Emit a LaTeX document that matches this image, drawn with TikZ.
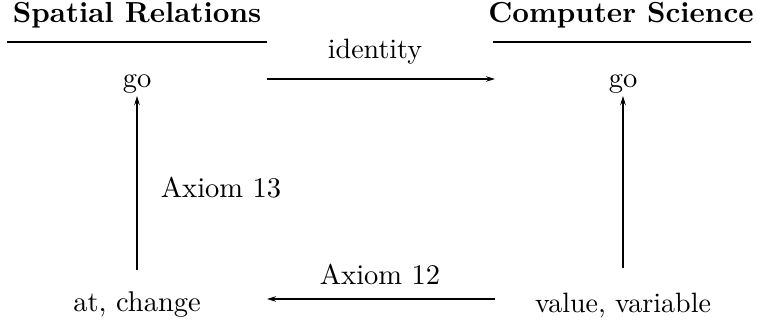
\documentclass[tikz,border=0pt]{standalone}
\usetikzlibrary{arrows.meta}
\newcommand\scaledtxt[2]{\scalebox{#1}{\fontsize{10}{12}\selectfont #2}}
\begin{document}
\begin{tikzpicture}[x=1pt,y=-1pt,
  txt/.style={anchor=base,inner sep=0pt},
  head/.style={anchor=base,inner sep=0pt},
  hline/.style={line width=2.3pt},
  arr/.style={line width=1.3pt,-{Stealth[length=9pt,width=5.5pt]}}]
\useasboundingbox (0,0) rectangle (757,323);
\node[head] (hL) at (137,23) {\scaledtxt{2.9}{\bfseries Spatial Relations}};
\node[head] (hR) at (621,23) {\scaledtxt{2.9}{\bfseries Computer Science}};
\draw[hline] (7,42) -- (267,42);
\draw[hline] (493,42) -- (751,42);
\node[txt] (goL) at (137,88) {\scaledtxt{2.85}{go}};
\node[txt] (goR) at (623,88) {\scaledtxt{2.85}{go}};
\node[txt] (atc) at (137,311) {\scaledtxt{2.85}{at, change}};
\node[txt] (val) at (623,312) {\scaledtxt{2.8}{value, variable}};
\node[txt] (lid) at (375,59) {\scaledtxt{2.8}{identity}};
\node[txt] (l13) at (221,197) {\scaledtxt{2.85}{Axiom 13}};
\node[txt] (l12) at (380,284) {\scaledtxt{2.85}{Axiom 12}};
\draw[arr,shorten <=130pt,shorten >=128pt] ([yshift=9pt]goL.base) -- ([yshift=9pt]goR.base);
\draw[arr,shorten <=128pt,shorten >=130pt] ([yshift=13pt]val.base) -- ([yshift=12pt]atc.base);
\draw[arr,shorten <=41pt,shorten >=8pt] (atc.base) -- (goL.base);
\draw[arr,shorten <=44pt,shorten >=8pt] (val.base) -- (goR.base);
\end{tikzpicture}
\end{document}
